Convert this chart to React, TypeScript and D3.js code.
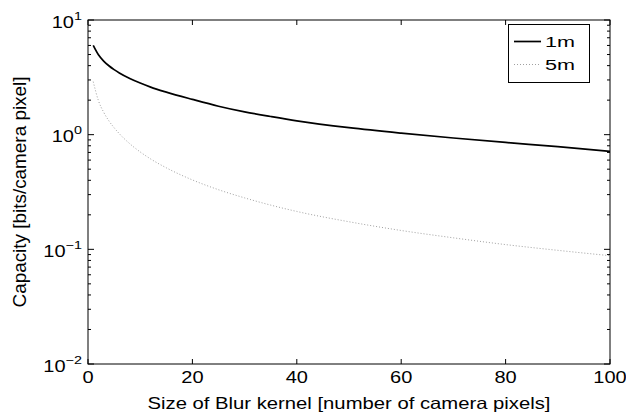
import React from "react";
import * as d3 from "d3";

const xValues = [1, 2, 3, 4, 5, 6, 8, 10, 12, 15, 20, 25, 30, 35, 40, 50, 60, 70, 80, 90, 100];
const series1m = [6.0, 4.97, 4.38, 3.99, 3.69, 3.45, 3.09, 2.82, 2.6, 2.35, 2.03, 1.77, 1.58, 1.44, 1.32, 1.15, 1.03, 0.935, 0.855, 0.785, 0.715];
const series5m = [2.9, 1.98, 1.57, 1.32, 1.15, 1.02, 0.834, 0.707, 0.614, 0.514, 0.403, 0.331, 0.281, 0.243, 0.214, 0.174, 0.146, 0.126, 0.11, 0.098, 0.088];
const xTicks = [0, 20, 40, 60, 80, 100];
const yDecades = [-2, -1, 0, 1];
const seriesNames = ["1m", "5m"];
const xLabel = "Size of Blur kernel [number of camera pixels]";
const yLabel = "Capacity [bits/camera pixel]";

const W = 626;
const H = 420;
const M = { left: 88, right: 610, top: 20, bottom: 364 };
const FONT = "'Liberation Sans', Arial, Helvetica, sans-serif";
const SX = 1.25;

export default function App() {
  const x = d3.scaleLinear().domain([0, 100]).range([M.left, M.right]);
  const y = d3.scaleLog().domain([0.01, 10]).range([M.bottom, M.top]);

  const line = d3
    .line<number>()
    .x((_, i) => x(xValues[i]))
    .y((d) => y(d))
    .curve(d3.curveMonotoneX);

  const minor: number[] = [];
  for (const e of [-2, -1, 0]) {
    for (let k = 2; k <= 9; k++) minor.push(k * Math.pow(10, e));
  }

  return (
    <svg
      width={W}
      height={H}
      style={{ position: "absolute", left: 0, top: 0, background: "#fff" }}
      fontFamily={FONT}
    >
      <rect x={0} y={0} width={W} height={H} fill="#fff" />
      <rect
        x={M.left}
        y={M.top}
        width={M.right - M.left}
        height={M.bottom - M.top}
        fill="none"
        stroke="#000"
        strokeWidth={1}
      />
      {xTicks.map((t) => (
        <g key={"xt" + t}>
          <line x1={x(t)} x2={x(t)} y1={M.bottom} y2={M.bottom - 5} stroke="#000" />
          <line x1={x(t)} x2={x(t)} y1={M.top} y2={M.top + 5} stroke="#000" />
          <text
            transform={`translate(${x(t)},383) scale(${SX},1)`}
            fontSize={16}
            textAnchor="middle"
            fill="#000"
          >
            {t}
          </text>
        </g>
      ))}
      {yDecades.map((e) => {
        const yy = y(Math.pow(10, e));
        return (
          <g key={"yt" + e}>
            <line x1={M.left} x2={M.left + 6} y1={yy} y2={yy} stroke="#000" />
            <line x1={M.right} x2={M.right - 6} y1={yy} y2={yy} stroke="#000" />
            <text
              transform={`translate(82,${yy + 7.5}) scale(${SX},1)`}
              fontSize={16}
              textAnchor="end"
              fill="#000"
            >
              10
              <tspan dy={-8} fontSize={11.5}>
                {e < 0 ? "\u2212" + Math.abs(e) : String(e)}
              </tspan>
            </text>
          </g>
        );
      })}
      {minor.map((v, i) => (
        <g key={"ym" + i}>
          <line x1={M.left} x2={M.left + 3} y1={y(v)} y2={y(v)} stroke="#000" />
          <line x1={M.right} x2={M.right - 3} y1={y(v)} y2={y(v)} stroke="#000" />
        </g>
      ))}
      <path d={line(series5m) || ""} fill="none" stroke="#a0a0a0" strokeWidth={1} strokeDasharray="1 2" />
      <path d={line(series1m) || ""} fill="none" stroke="#000" strokeWidth={1.7} />
      <rect x={508.5} y={24.5} width={81} height={58} fill="#fff" stroke="#000" strokeWidth={1} />
      <line x1={514} x2={541} y1={41.5} y2={41.5} stroke="#000" strokeWidth={1.7} />
      <text x={545} y={47} fontSize={15} fill="#000" textLength={30} lengthAdjust="spacingAndGlyphs">
        {seriesNames[0]}
      </text>
      <line x1={514} x2={541} y1={64.5} y2={64.5} stroke="#a0a0a0" strokeWidth={1} strokeDasharray="1 2" />
      <text x={545} y={70} fontSize={15} fill="#000" textLength={30} lengthAdjust="spacingAndGlyphs">
        {seriesNames[1]}
      </text>
      <text
        x={(M.left + M.right) / 2}
        y={408.5}
        fontSize={16.5}
        textAnchor="middle"
        fill="#000"
        textLength={403}
        lengthAdjust="spacingAndGlyphs"
      >
        {xLabel}
      </text>
      <text
        transform={`translate(25.5, ${(M.top + M.bottom) / 2}) rotate(-90)`}
        fontSize={19}
        textAnchor="middle"
        fill="#000"
        textLength={231}
        lengthAdjust="spacingAndGlyphs"
      >
        {yLabel}
      </text>
    </svg>
  );
}
